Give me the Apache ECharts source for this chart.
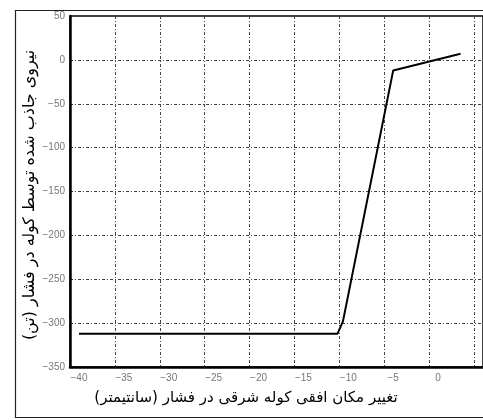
<!DOCTYPE html>
<html>
<head>
<meta charset="utf-8">
<script src="https://cdn.jsdelivr.net/npm/echarts@6/dist/echarts.min.js"></script>
<style>
html,body{margin:0;padding:0;background:#fff;}
#chart{width:483px;height:420px;}
</style>
</head>
<body>
<div id="chart"></div>
<script>
// Data
var xValues = [-40, -11.2, -10.6, -5, 2.5];
var yValues = [-312, -312, -298, -12, 7];
var xTicks = [-40, -35, -30, -25, -20, -15, -10, -5, 0];
var yTicks = [50, 0, -50, -100, -150, -200, -250, -300, -350];
var xTitle = 'تغییر مکان افقی کوله شرقی در فشار (سانتیمتر)\u200F';
var yTitle = 'نیروی جاذب شده توسط کوله در فشار (تن)\u200F';

var points = xValues.map(function (x, i) { return [x, yValues[i]]; });
var gridLine = { show: true, lineStyle: { color: '#444', width: 1, type: [3, 2, 1, 2] } };
var chart = echarts.init(document.getElementById('chart'), null, { renderer: 'canvas' });
chart.setOption({
  animation: false,
  backgroundColor: '#fff',
  grid: { left: 70, top: 16, right: -3, bottom: 53, show: true, borderColor: '#000', borderWidth: 1.5, containLabel: false },
  xAxis: {
    type: 'value', min: -41, max: 5,
    axisLine: { show: true, onZero: false, lineStyle: { color: '#000', width: 2.5 } },
    axisTick: { show: false },
    axisLabel: {
      margin: 6, fontSize: 10, color: '#777', fontFamily: 'Liberation Sans',
      customValues: xTicks,
      formatter: function (v) { return xTicks.indexOf(v) >= 0 ? String(v).replace('-', '\u2212') : ''; }
    },
    splitLine: gridLine,
    interval: 5
  },
  yAxis: {
    type: 'value', min: -350, max: 50, interval: 50,
    axisLine: { show: true, onZero: false, lineStyle: { color: '#000', width: 2.5 } },
    axisTick: { show: false },
    axisLabel: {
      margin: 5, fontSize: 10, color: '#777', fontFamily: 'Liberation Sans',
      formatter: function (v) { return yTicks.indexOf(v) >= 0 ? String(v).replace('-', '\u2212') : ''; }
    },
    splitLine: gridLine
  },
  graphic: [
    { type: 'rect', shape: { x: 15.5, y: 10.5, width: 500, height: 407 }, style: { fill: 'none', stroke: '#222', lineWidth: 1.2 }, silent: true, z: -1 },
    { type: 'text', x: 246, y: 398, style: { text: xTitle, font: '15px "DejaVu Sans"', fill: '#000', align: 'center', verticalAlign: 'middle' } },
    { type: 'text', x: 30, y: 195, rotation: Math.PI / 2, style: { text: yTitle, font: '16px "DejaVu Sans"', fill: '#000', align: 'center', verticalAlign: 'middle' } }
  ],
  series: [{
    type: 'line', data: points, showSymbol: false, symbol: 'none',
    lineStyle: { color: '#000', width: 2 }, z: 5
  }]
});
</script>
</body>
</html>
